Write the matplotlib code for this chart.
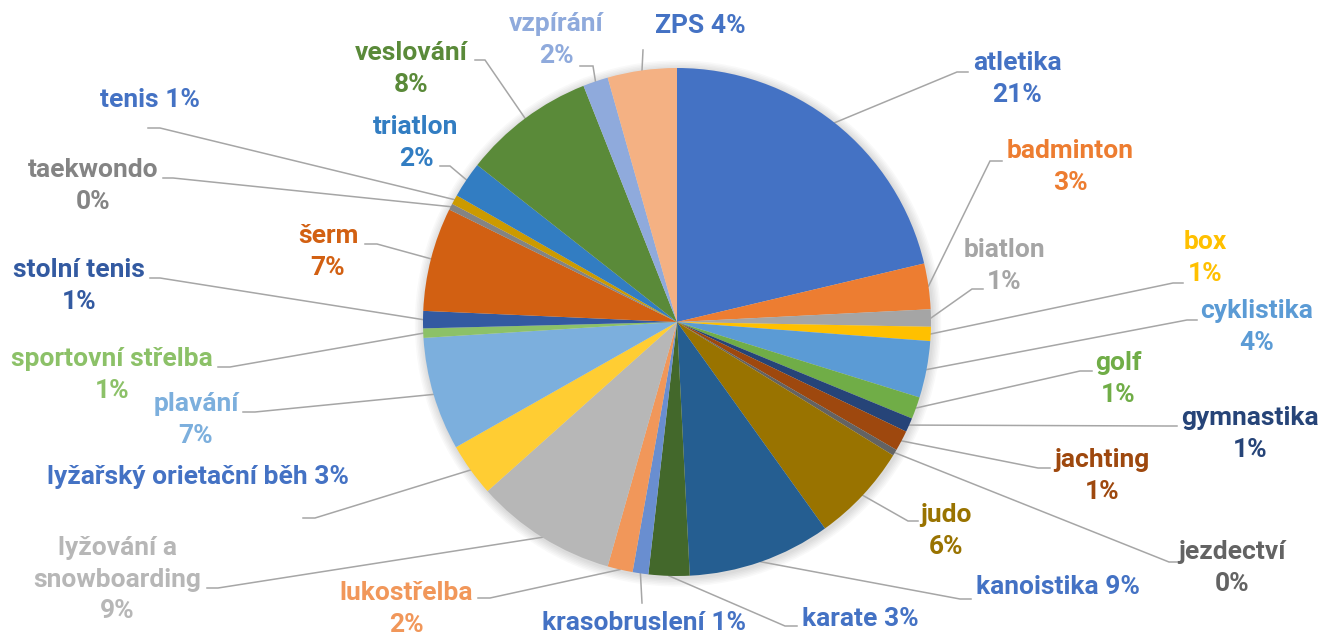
import numpy as np
import matplotlib.pyplot as plt
from matplotlib.patches import Circle

# data (share of athletes per sport, clockwise from 12 o'clock)
sports = ['atletika', 'badminton', 'biatlon', 'box', 'cyklistika', 'golf',
          'gymnastika', 'jachting', 'jezdectví', 'judo', 'kanoistika', 'karate',
          'krasobruslení', 'lukostřelba', 'lyžování a snowboarding',
          'lyžařský orietační běh', 'plavání', 'sportovní střelba', 'stolní tenis',
          'šerm', 'taekwondo', 'tenis', 'triatlon', 'veslování', 'vzpírání', 'ZPS']
values = [21.3, 2.9, 1.1, 0.9, 3.6, 1.4,
          0.9, 1.3, 0.4, 6.3, 9.1, 2.6,
          1.0, 1.6, 9.0,
          3.4, 7.2, 0.6, 1.1,
          6.6, 0.4, 0.6, 2.3, 8.4, 1.6, 4.4]

slice_colors = ['#4472C4', '#ED7D31', '#A5A5A5', '#FFC000', '#5B9BD5', '#70AD47',
                '#264478', '#9E480E', '#636363', '#997300', '#255E91', '#43682B',
                '#698ED0', '#F1975A', '#B7B7B7', '#FFCD33', '#7CAFDD', '#8CC168',
                '#335AA1', '#D26012', '#848484', '#CC9A00', '#327DC2', '#5A8A39',
                '#8FAADC', '#F4B183']
label_colors = ['#4472C4', '#ED7D31', '#A5A5A5', '#FFC000', '#5B9BD5', '#70AD47',
                '#264478', '#9E480E', '#636363', '#997300', '#4472C4', '#4472C4',
                '#4472C4', '#F1975A', '#B7B7B7', '#4472C4', '#7CAFDD', '#8CC168',
                '#335AA1', '#D26012', '#848484', '#4472C4', '#327DC2', '#5A8A39',
                '#8FAADC', '#4472C4']

# label layout in image pixels: text centre, leader elbow, leader end, one-line label?
W, H = 1323, 637
CX, CY, R = 677, 322, 254
LINE_GAP = 31.5
layout = {
    'atletika': ((1017, 79), (957, 72), (968, 72), False),
    'badminton': ((1070, 167), (990, 161), (1002, 161), False),
    'biatlon': ((1004, 266), (972, 289), (983, 289), False),
    'box': ((1205, 258), (1173, 283), (1183, 283), False),
    'cyklistika': ((1257, 327), (1187, 320), (1197, 320), False),
    'golf': ((1118, 379), (1080, 371), (1092, 371), False),
    'gymnastika': ((1250, 434), (1166, 426), (1177, 426), False),
    'jachting': ((1102, 476), (1038, 468), (1050, 468), False),
    'jezdectví': ((1232, 568), (1169, 562), (1180, 562), False),
    'judo': ((946, 531), (908, 521), (918, 521), False),
    'kanoistika': ((1058, 587), (960, 599), (971, 599), True),
    'karate': ((860, 619), (785, 626), (797, 626), True),
    'krasobruslení': ((644, 623), (642, 603), (642, 603), True),
    'lukostřelba': ((406, 609), (490, 598), (478, 598), False),
    'lyžování a snowboarding': ((117, 580), (218, 588), (207, 588), False),
    'lyžařský orietační běh': ((198, 477), (315, 518), (303, 518), True),
    'plavání': ((196, 420), (255, 412), (243, 412), False),
    'sportovní střelba': ((112, 375), (230, 367), (218, 367), False),
    'stolní tenis': ((79, 286), (160, 278), (150, 278), False),
    'šerm': ((328, 252), (377, 244), (365, 244), False),
    'taekwondo': ((93, 186), (173, 178), (163, 178), False),
    'tenis': ((150, 100), (160, 128), (148, 128), True),
    'triatlon': ((416, 143), (450, 166), (440, 166), False),
    'veslování': ((411, 69), (485, 60), (475, 60), False),
    'vzpírání': ((556, 40), (593, 66), (580, 66), False),
    'ZPS': ((700, 26), (643, 50), (643, 50), True),
}


def px(p):
    return (p[0] - CX) / R, (CY - p[1]) / R


def main():
    plt.rcParams['font.family'] = ['Roboto', 'DejaVu Sans']
    fig = plt.figure(figsize=(W / 100, H / 100), dpi=100)
    ax = fig.add_axes([0, 0, 1, 1])

    # soft shadow behind the pie
    for k in range(1, 7):
        ax.add_patch(Circle((0.004, -0.006), 1 + k * 0.006, color='black',
                            alpha=0.025, lw=0, zorder=0))

    wedges, _ = ax.pie(values, colors=slice_colors, startangle=90, counterclock=False,
                       radius=1, wedgeprops=dict(linewidth=0))
    for w in wedges:
        w.set_zorder(2)

    total = sum(values)
    for name, val, w, col in zip(sports, values, wedges, label_colors):
        (tx, ty), elbow, end, one_line = layout[name]
        pct = '%d%%' % round(val / total * 100)
        lines = name.replace(' a ', ' a\n').split('\n')
        if one_line:
            lines[-1] += ' ' + pct
        else:
            lines.append(pct)

        # leader line: pie edge at the slice middle -> elbow -> label
        mid = np.deg2rad((w.theta1 + w.theta2) / 2)
        ex, ey = px(elbow)
        nx, ny = px(end)
        ax.plot([np.cos(mid), ex, nx], [np.sin(mid), ey, ny], color='#A6A6A6',
                lw=1.1, zorder=1, solid_joinstyle='miter')

        top = ty - (len(lines) - 1) * LINE_GAP / 2
        for i, line in enumerate(lines):
            lx, ly = px((tx, top + i * LINE_GAP))
            ax.text(lx, ly, line, color=col, fontsize=19, fontweight='bold',
                    ha='center', va='center')

    ax.set_xlim(-CX / R, (W - CX) / R)
    ax.set_ylim(-(H - CY) / R, CY / R)
    ax.set_aspect('equal', adjustable='datalim')
    ax.axis('off')
    fig.savefig('out.png', dpi=100, facecolor='white')


if __name__ == '__main__':
    main()
